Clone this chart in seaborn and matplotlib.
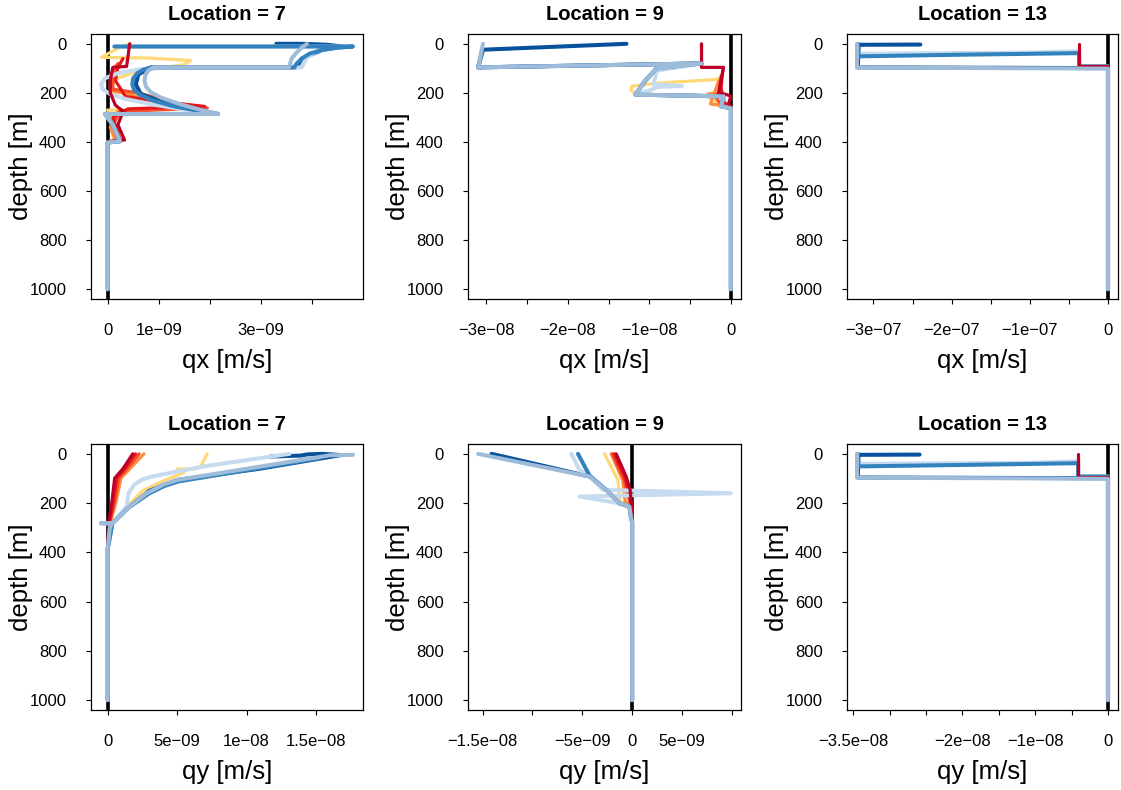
import numpy as np
import pandas as pd
import matplotlib
matplotlib.use("Agg")
import matplotlib.pyplot as plt
import seaborn as sns

# ---------------- colours of the series ----------------
COL = {
    "R1": "#BD0026", "R2": "#E31A1C", "R3": "#FC4E2A", "R4": "#FD8D3C", "R6": "#FED976",
    "B4": "#C6DBEF", "B2": "#3182BD", "B1": "#08519C", "B5": "#9EBCDA",
}
DRAW_ORDER = ["R6", "R4", "R3", "R2", "B1", "B4", "B2", "R1", "B5"]

# ---------------- Panel 1 : Location 7, qx (units 1e-9 m/s) ----------------
p1_scale = 1e-9
p1_R6_d = [0, 12, 55, 58, 68, 85, 110, 140, 175, 196, 200, 240, 262, 270, 300, 390, 400, 1000]
p1_R6_x = [0.45, 0.25, -0.12, 0.8, 1.62, 1.5, 0.6, 0.2, 0.05, 0.1, 0.45, 0.9, 1.5, 0.0, 0.05, 0.15, 0.0, 0.0]
p1_R4_d = [90, 130, 190, 205, 225, 258, 275, 340, 395, 400, 1000]
p1_R4_x = [0.15, 0.05, 0.05, 0.4, 0.7, 1.6, 0.2, 0.05, 0.15, 0.0, 0.0]
p1_R3_d = [80, 120, 185, 200, 240, 262, 275, 330, 392, 400, 1000]
p1_R3_x = [0.2, 0.1, 0.1, 0.6, 1.3, 1.95, 0.25, 0.1, 0.2, 0.0, 0.0]
p1_R2_d = [60, 96, 150, 215, 235, 255, 265, 300, 392, 400, 1000]
p1_R2_x = [0.3, 0.2, 0.15, 0.35, 1.0, 1.9, 0.4, 0.1, 0.25, 0.0, 0.0]
p1_R1_d = [0, 92, 96, 150, 200, 250, 275, 330, 392, 400, 1000]
p1_R1_x = [0.43, 0.37, 0.1, 0.05, 0.05, 0.15, 0.3, 0.2, 0.33, 0.0, 0.0]
p1_B4_d = [11, 11, 18, 30, 55, 96, 96, 105, 120, 140, 165, 185, 205, 225, 248, 268, 286, 286, 330, 397, 402, 1000]
p1_B4_x = [0.13, 4.75, 4.4, 4.1, 3.9, 3.8, 1.2, 0.6, 0.2, -0.05, -0.13, -0.1, 0.05, 0.35, 0.9, 1.5, 2.16, -0.05, 0.1, 0.24, 0.0, 0.0]
p1_B2_d = [11, 11, 16, 25, 40, 60, 80, 96, 96, 105, 120, 140, 165, 190, 210, 232, 255, 272, 286, 286, 330, 397, 402, 1000]
p1_B2_x = [0.13, 4.8, 4.5, 4.2, 3.95, 3.8, 3.7, 3.65, 0.85, 0.7, 0.58, 0.5, 0.48, 0.52, 0.65, 0.9, 1.3, 1.75, 2.16, -0.05, 0.1, 0.24, 0.0, 0.0]
p1_B1_d = [0, 0, 4, 11, 25, 60, 96, 96, 125, 165, 205, 240, 268, 286, 286, 330, 397, 402, 1000]
p1_B1_x = [3.3, 3.82, 4.3, 4.6, 4.2, 3.8, 3.7, 0.85, 0.6, 0.55, 0.65, 1.1, 1.75, 2.16, -0.05, 0.1, 0.24, 0.0, 0.0]
p1_B5_d = [0, 15, 35, 60, 96, 96, 108, 125, 150, 175, 198, 220, 245, 268, 286, 286, 330, 397, 402, 1000]
p1_B5_x = [3.9, 3.8, 3.7, 3.6, 3.55, 0.9, 0.8, 0.74, 0.72, 0.75, 0.85, 1.05, 1.4, 1.8, 2.16, -0.05, 0.1, 0.24, 0.0, 0.0]
p1_ticks = [0, 1, 2, 3, 4]
p1_ticklabels = ["0", "1e\u221209", "", "3e\u221209", ""]

# ---------------- Panel 2 : Location 9, qx (units 1e-8 m/s) ----------------
p2_scale = 1e-8
p2_R6_d = [140, 146, 160, 173, 190, 205, 214, 250, 262, 1000]
p2_R6_x = [-0.15, -0.2, -0.9, -1.22, -1.22, -1.17, -0.3, -0.1, 0.0, 0.0]
p2_R4_d = [150, 200, 205, 214, 245, 255, 262, 1000]
p2_R4_x = [-0.15, -0.2, -0.28, -0.22, -0.25, -0.05, 0.0, 0.0]
p2_R3_d = [130, 200, 210, 250, 262, 1000]
p2_R3_x = [-0.12, -0.15, -0.2, -0.12, 0.0, 0.0]
p2_R2_d = [110, 180, 210, 240, 262, 1000]
p2_R2_x = [-0.1, -0.12, -0.1, -0.08, 0.0, 0.0]
p2_R1_d = [0, 96, 96, 200, 207, 214, 245, 255, 1000]
p2_R1_x = [-0.36, -0.36, -0.09, -0.15, -0.05, 0.0, -0.03, 0.0, 0.0]
p2_B4_d = [80, 110, 140, 165, 172, 176, 190, 207, 214, 255, 262, 1000]
p2_B4_x = [-0.36, -0.91, -0.93, -0.95, -0.6, -0.9, -1.0, -1.17, -0.09, -0.12, 0.0, 0.0]
p2_B2_d = [24, 96, 80, 100, 150, 207, 214, 255, 262, 1000]
p2_B2_x = [-3.05, -3.1, -0.36, -0.91, -1.05, -1.17, -0.09, -0.12, 0.0, 0.0]
p2_B1_d = [0, 24, 96, 80, 100, 150, 207, 214, 255, 262, 1000]
p2_B1_x = [-1.28, -3.04, -3.1, -0.36, -0.91, -1.05, -1.17, -0.09, -0.12, 0.0, 0.0]
p2_B5_d = [0, 96, 80, 100, 150, 207, 214, 255, 262, 1000]
p2_B5_x = [-3.04, -3.1, -0.36, -0.91, -1.05, -1.17, -0.09, -0.12, 0.0, 0.0]
p2_ticks = [-3, -2.5, -2, -1.5, -1, -0.5, 0]
p2_ticklabels = ["\u22123e\u221208", "", "\u22122e\u221208", "", "\u22121e\u221208", "", "0"]

# ---------------- Panel 3 : Location 13, qx (units 1e-7 m/s) ----------------
p3_scale = 1e-7
p3_R1_d = [0, 92, 92, 1000]
p3_R1_x = [-0.37, -0.37, 0.0, 0.0]
p3_B4_d = [0, 40, 40, 36, 30, 92, 92, 1000]
p3_B4_x = [-3.21, -3.21, -3.0, -1.0, -0.37, -0.37, 0.0, 0.0]
p3_B2_d = [0, 51, 45, 38, 92, 92, 1000]
p3_B2_x = [-3.2, -3.19, -2.0, -0.37, -0.37, 0.0, 0.0]
p3_B1_d = [3, 4, 96, 99, 1000]
p3_B1_x = [-2.4, -3.19, -3.2, 0.0, 0.0]
p3_B5_d = [0, 97, 99, 101, 1000]
p3_B5_x = [-3.21, -3.21, -1.5, 0.0, 0.0]
p3_ticks = [-3, -2.5, -2, -1.5, -1, -0.5, 0]
p3_ticklabels = ["\u22123e\u221207", "", "\u22122e\u221207", "", "\u22121e\u221207", "", "0"]

# ---------------- Panel 4 : Location 7, qy (units 1e-9 m/s) ----------------
p4_scale = 1e-9
p4_R6_d = [0, 50, 60, 62, 75, 110, 150, 214, 282, 384, 1000]
p4_R6_x = [7.16, 6.7, 6.4, 5.0, 5.5, 4.0, 2.5, 1.4, 0.3, 0.0, 0.0]
p4_R4_d = [0, 60, 99, 194, 276, 384, 1000]
p4_R4_x = [2.6, 1.6, 0.95, 0.6, 0.2, 0.0, 0.0]
p4_R3_d = [0, 60, 99, 194, 276, 384, 1000]
p4_R3_x = [2.25, 1.4, 0.8, 0.5, 0.15, 0.0, 0.0]
p4_R2_d = [0, 60, 99, 194, 276, 384, 1000]
p4_R2_x = [2.0, 1.25, 0.65, 0.4, 0.12, 0.0, 0.0]
p4_R1_d = [0, 60, 99, 194, 276, 384, 1000]
p4_R1_x = [1.8, 1.1, 0.5, 0.3, 0.08, 0.0, 0.0]
p4_B4_d = [0, 50, 92, 104, 125, 160, 214, 282, 384, 1000]
p4_B4_x = [13.1, 7.0, 3.2, 2.5, 1.9, 1.5, 1.36, 0.33, 0.0, 0.0]
p4_B2_d = [18, 112, 130, 160, 221, 282, 384, 1000]
p4_B2_x = [15.2, 5.1, 4.1, 3.0, 1.43, 0.33, 0.0, 0.0]
p4_B1_d = [11, 7, 2, 0, 5, 60, 106, 150, 221, 282, 384, 1000]
p4_B1_x = [11.7, 13.9, 14.4, 15.5, 16.8, 11.0, 5.0, 3.0, 1.43, 0.33, 0.0, 0.0]
p4_B5_d = [4, 6, 106, 125, 160, 221, 282, 282, 282, 300, 384, 1000]
p4_B5_x = [17.66, 16.0, 5.0, 4.0, 2.8, 1.43, 0.33, -0.48, 0.3, 0.15, 0.0, 0.0]
p4_ticks = [0, 5, 10, 15]
p4_ticklabels = ["0", "5e\u221209", "1e\u221208", "1.5e\u221208"]

# ---------------- Panel 5 : Location 9, qy (units 1e-9 m/s) ----------------
p5_scale = 1e-9
p5_R6_d = [0, 106, 194, 207, 214, 270, 1000]
p5_R6_x = [-2.77, -1.43, -1.2, -0.6, -0.2, 0.0, 0.0]
p5_R4_d = [0, 106, 194, 207, 270, 1000]
p5_R4_x = [-2.1, -0.95, -0.7, -0.2, 0.0, 0.0]
p5_R3_d = [0, 100, 160, 210, 270, 1000]
p5_R3_x = [-2.0, -0.85, -0.5, -0.1, 0.0, 0.0]
p5_R2_d = [0, 95, 150, 214, 270, 1000]
p5_R2_x = [-1.8, -0.75, -0.35, -0.05, 0.0, 0.0]
p5_R1_d = [0, 92, 146, 262, 275, 1000]
p5_R1_x = [-1.6, -0.6, -0.2, 0.03, 0.0, 0.0]
p5_B4_d = [0, 65, 92, 146, 160, 173, 201, 214, 262, 275, 1000]
p5_B4_x = [-6.1, -5.27, -4.27, -2.93, 9.9, -5.27, -1.27, -0.27, -0.1, 0.0, 0.0]
p5_B2_d = [0, 88, 150, 201, 214, 262, 275, 1000]
p5_B2_x = [-5.43, -4.27, -2.5, -1.27, -0.27, -0.1, 0.0, 0.0]
p5_B1_d = [0, 10, 92, 150, 201, 214, 262, 275, 1000]
p5_B1_x = [-14.1, -13.0, -4.27, -2.5, -1.27, -0.27, -0.1, 0.0, 0.0]
p5_B5_d = [0, 92, 150, 201, 214, 262, 275, 1000]
p5_B5_x = [-15.44, -4.27, -2.5, -1.27, -0.27, -0.1, 0.0, 0.0]
p5_ticks = [-15, -10, -5, 0, 5, 10]
p5_ticklabels = ["\u22121.5e\u221208", "", "\u22125e\u221209", "0", "5e\u221209", ""]

# ---------------- Panel 6 : Location 13, qy (units 1e-8 m/s) ----------------
p6_scale = 1e-8
p6_R1_d = [0, 92, 92, 1000]
p6_R1_x = [-0.41, -0.41, 0.0, 0.0]
p6_B4_d = [0, 40, 40, 36, 30, 92, 92, 1000]
p6_B4_x = [-3.45, -3.45, -3.2, -1.0, -0.41, -0.41, 0.0, 0.0]
p6_B2_d = [0, 51, 45, 38, 92, 92, 1000]
p6_B2_x = [-3.44, -3.43, -2.0, -0.41, -0.41, 0.0, 0.0]
p6_B1_d = [3, 4, 96, 99, 1000]
p6_B1_x = [-2.59, -3.43, -3.44, 0.0, 0.0]
p6_B5_d = [0, 97, 99, 101, 1000]
p6_B5_x = [-3.45, -3.45, -1.5, 0.0, 0.0]
p6_ticks = [-3.5, -3, -2.5, -2, -1.5, -1, -0.5, 0]
p6_ticklabels = ["\u22123.5e\u221208", "", "", "\u22122e\u221208", "", "\u22121e\u221208", "", "0"]

titles = ["Location = 7", "Location = 9", "Location = 13"] * 2
xlabels = ["qx [m/s]"] * 3 + ["qy [m/s]"] * 3
ylabel = "depth [m]"
depth_ticks = [0, 200, 400, 600, 800, 1000]

panels = [
    (p1_scale, {"R6": (p1_R6_d, p1_R6_x), "R4": (p1_R4_d, p1_R4_x), "R3": (p1_R3_d, p1_R3_x),
                "R2": (p1_R2_d, p1_R2_x), "R1": (p1_R1_d, p1_R1_x), "B4": (p1_B4_d, p1_B4_x),
                "B2": (p1_B2_d, p1_B2_x), "B1": (p1_B1_d, p1_B1_x), "B5": (p1_B5_d, p1_B5_x)},
     p1_ticks, p1_ticklabels),
    (p2_scale, {"R6": (p2_R6_d, p2_R6_x), "R4": (p2_R4_d, p2_R4_x), "R3": (p2_R3_d, p2_R3_x),
                "R2": (p2_R2_d, p2_R2_x), "R1": (p2_R1_d, p2_R1_x), "B4": (p2_B4_d, p2_B4_x),
                "B2": (p2_B2_d, p2_B2_x), "B1": (p2_B1_d, p2_B1_x), "B5": (p2_B5_d, p2_B5_x)},
     p2_ticks, p2_ticklabels),
    (p3_scale, {"R1": (p3_R1_d, p3_R1_x), "B4": (p3_B4_d, p3_B4_x), "B2": (p3_B2_d, p3_B2_x),
                "B1": (p3_B1_d, p3_B1_x), "B5": (p3_B5_d, p3_B5_x)},
     p3_ticks, p3_ticklabels),
    (p4_scale, {"R6": (p4_R6_d, p4_R6_x), "R4": (p4_R4_d, p4_R4_x), "R3": (p4_R3_d, p4_R3_x),
                "R2": (p4_R2_d, p4_R2_x), "R1": (p4_R1_d, p4_R1_x), "B4": (p4_B4_d, p4_B4_x),
                "B2": (p4_B2_d, p4_B2_x), "B1": (p4_B1_d, p4_B1_x), "B5": (p4_B5_d, p4_B5_x)},
     p4_ticks, p4_ticklabels),
    (p5_scale, {"R6": (p5_R6_d, p5_R6_x), "R4": (p5_R4_d, p5_R4_x), "R3": (p5_R3_d, p5_R3_x),
                "R2": (p5_R2_d, p5_R2_x), "R1": (p5_R1_d, p5_R1_x), "B4": (p5_B4_d, p5_B4_x),
                "B2": (p5_B2_d, p5_B2_x), "B1": (p5_B1_d, p5_B1_x), "B5": (p5_B5_d, p5_B5_x)},
     p5_ticks, p5_ticklabels),
    (p6_scale, {"R1": (p6_R1_d, p6_R1_x), "B4": (p6_B4_d, p6_B4_x), "B2": (p6_B2_d, p6_B2_x),
                "B1": (p6_B1_d, p6_B1_x), "B5": (p6_B5_d, p6_B5_x)},
     p6_ticks, p6_ticklabels),
]

# ---------------- style ----------------
sns.set_style("white")
plt.rcParams["font.family"] = ["Liberation Sans", "DejaVu Sans"]
plt.rcParams["axes.unicode_minus"] = True
plt.rcParams["text.color"] = "black"
plt.rcParams["axes.labelcolor"] = "black"
plt.rcParams["xtick.color"] = "black"
plt.rcParams["ytick.color"] = "black"

W, H = 1121, 790
fig = plt.figure(figsize=(W / 100, H / 100), dpi=100)
fig.patch.set_facecolor("white")

col_left = [91, 468, 847]
col_width = [272, 273, 271]
row_top = [34, 444]
row_height = [265, 266]

for i, (scale, series, ticks, ticklabels) in enumerate(panels):
    r, c = divmod(i, 3)
    l, w = col_left[c], col_width[c]
    t, h = row_top[r], row_height[r]
    ax = fig.add_axes([l / W, 1 - (t + h) / H, w / W, h / H])
    ax.axvline(0, color="black", lw=2.6, zorder=1)

    allx = [0.0]
    for key in DRAW_ORDER:
        if key not in series:
            continue
        d, x = series[key]
        xs = np.array(x, dtype=float) * scale
        allx.extend(xs.tolist())
        df = pd.DataFrame({"q": xs, "depth": np.array(d, dtype=float)})
        lw = 2.9 if key.startswith("B") else 2.3
        sns.lineplot(data=df, x="q", y="depth", sort=False, estimator=None,
                     color=COL[key], lw=lw, ax=ax, zorder=3,
                     solid_capstyle="round", solid_joinstyle="round")

    xmin, xmax = min(allx), max(allx)
    rng = xmax - xmin
    ax.set_xlim(xmin - 0.04 * rng, xmax + 0.04 * rng)
    ax.set_ylim(1040, -40)

    ax.set_xticks(np.array(ticks) * scale)
    ax.set_xticklabels(ticklabels)
    ax.set_yticks(depth_ticks)
    ax.set_yticklabels([str(v) for v in depth_ticks])
    ax.tick_params(axis="both", direction="out", length=3.5, width=0.8,
                   colors="black", labelcolor="black", labelsize=12, pad=14,
                   bottom=True, left=True)

    for sp in ax.spines.values():
        sp.set_visible(True)
        sp.set_color("black")
        sp.set_linewidth(0.9)

    ax.set_xlabel(xlabels[i], fontsize=18.5, color="black")
    ax.set_ylabel(ylabel, fontsize=18.5, color="black")
    ax.xaxis.label.set_va("center")
    ax.yaxis.label.set_va("center")
    ax.xaxis.set_label_coords(0.5, -62 / h)
    ax.yaxis.set_label_coords(-70 / w, 0.5)

    ax.text(0.5, 1 + 20 / h, titles[i], transform=ax.transAxes, ha="center",
            va="center", fontsize=14.5, fontweight="bold", color="black")

fig.savefig("out.png", dpi=100, facecolor="white")
